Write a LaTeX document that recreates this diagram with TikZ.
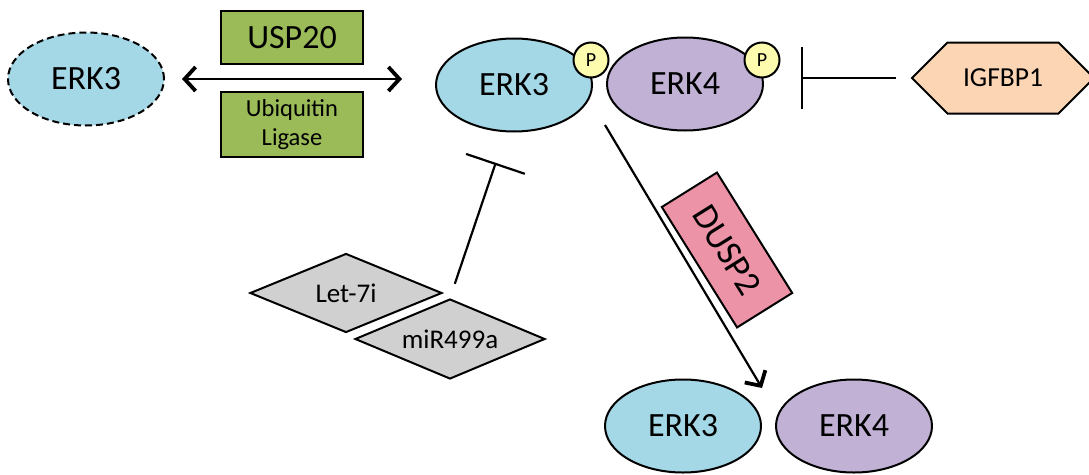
\documentclass[tikz,border=0pt]{standalone}
\usepackage{fontspec}
\setmainfont{Carlito}
\usetikzlibrary{shapes.geometric,shapes.symbols,arrows.meta}
\definecolor{erkblue}{HTML}{A5D8E6}
\definecolor{erkpurple}{HTML}{C0B1D5}
\definecolor{pyellow}{HTML}{FDFBAE}
\definecolor{boxgreen}{HTML}{9BBB59}
\definecolor{peach}{HTML}{FCD5B5}
\definecolor{dpink}{HTML}{EC93A8}
\definecolor{mgray}{HTML}{D0D0D0}
\tikzset{
  prot/.style={ellipse, draw=black, line width=2pt, minimum width=156pt, minimum height=93pt, inner sep=0pt, font=\fontsize{34}{36}\selectfont},
  pcirc/.style={circle, draw=black, line width=2pt, fill=pyellow, minimum size=35pt, inner sep=0pt, font=\fontsize{20}{22}\selectfont},
  gbox/.style={rectangle, draw=black, line width=2pt, fill=boxgreen, minimum width=142pt, inner sep=0pt, align=center},
  mirna/.style={diamond, shape aspect=2.4, draw=black, line width=2pt, fill=mgray, inner sep=0pt, font=\fontsize{27}{29}\selectfont},
  conn/.style={line width=2.2pt},
  chev/.tip={Straight Barb[length=11pt,width=24pt,line width=3.8pt]},
  inh/.style={line width=2.2pt, -{Bar[width=62pt,line width=2.2pt]}}
}
\begin{document}
\begin{tikzpicture}[x=1pt,y=-1pt]
\useasboundingbox (0,0) rectangle (1089,474);
% left dashed ERK3
\node[prot, fill=erkblue, dashed, dash pattern=on 7pt off 4pt] (erk3d) at (86,79) {ERK3};
% green boxes
\node[gbox, minimum height=53pt, font=\fontsize{34}{36}\selectfont] (usp) at (292,37.5) {USP20};
\node[gbox, minimum height=65pt, font=\fontsize{24.5}{29}\selectfont] (ubl) at (292,124.5) {Ubiquitin\\Ligase};
% top complex
\node[prot, fill=erkblue] (erk3b) at (514,85) {ERK3};
\node[prot, fill=erkpurple] (erk4b) at (685,84) {ERK4};
\node[pcirc] (p1) at (591,60) {P};
\node[pcirc] (p2) at (762,60) {P};
% IGFBP1
\node[signal, signal to=west and east, signal pointer angle=90, draw=black, line width=2pt, fill=peach, minimum width=182pt, minimum height=71pt, inner sep=0pt, font=\fontsize{27.5}{30}\selectfont] (igf) at (1003,78) {IGFBP1};
% miRNAs
\node[mirna, minimum width=192pt, minimum height=79pt] (let) at (346,293) {Let-7i};
\node[mirna, minimum width=190pt, minimum height=80pt] (mir) at (450,339) {miR499a};
% DUSP2
\node[rectangle, draw=black, line width=2pt, fill=dpink, minimum width=142pt, minimum height=65pt, inner sep=0pt, rotate=-58, font=\fontsize{36}{38}\selectfont] (dusp) at (727,250) {DUSP2};
% bottom
\node[prot, fill=erkblue] (erk3c) at (683,426) {ERK3};
\node[prot, fill=erkpurple] (erk4c) at (854,426) {ERK4};
% connectors
\draw[conn, chev-chev, shorten <=17pt, shorten >=33pt] (erk3d.east) -- (erk3d.east -| erk3b.west);
\draw[inh, shorten <=15pt, shorten >=37pt] (igf.west) -- (igf.west -| erk4b.east);
\draw[inh, shorten <=15pt, shorten >=32pt] (mir.north) -- ([xshift=-8pt]erk3b.south);
\coordinate (d1) at (605,125);
\coordinate (d2) at (762,388);
\draw[conn, -chev] (d1) -- (d2);
\end{tikzpicture}
\end{document}
